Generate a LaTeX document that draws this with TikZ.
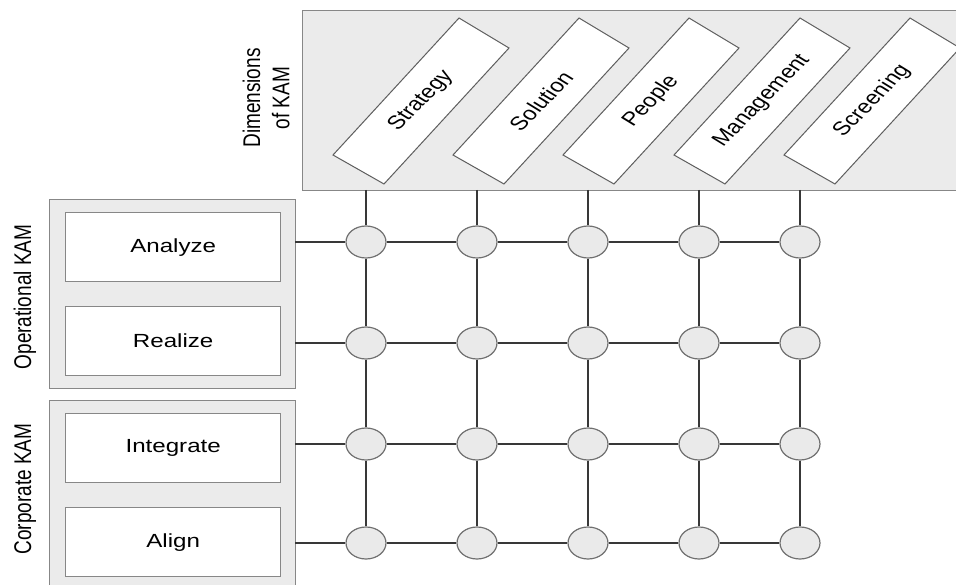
\documentclass[tikz,border=0pt]{standalone}
\usepackage{fontspec}
\setmainfont{Liberation Sans}
\usetikzlibrary{shapes.geometric}

\definecolor{panelfill}{HTML}{EBEBEB}
\definecolor{panelline}{HTML}{878787}
\definecolor{gridline}{HTML}{383838}
\definecolor{nodefill}{HTML}{EAEAEA}
\definecolor{nodeline}{HTML}{5E5E5E}
\definecolor{cellline}{HTML}{707070}

% wide lettering used throughout the figure
\newcommand{\wide}[1]{\scalebox{1.27}[1]{#1}}
% the same widening for text turned upright
\newcommand{\tall}[1]{\scalebox{1}[1.27]{#1}}

\begin{document}
\begin{tikzpicture}[x=1pt,y=-1pt,
  panel/.style={draw=panelline, fill=panelfill, line width=1.4pt, rectangle, inner sep=0pt, anchor=north west},
  phase/.style={draw=panelline, fill=white, line width=1.4pt, rectangle, inner sep=0pt,
    minimum width=215pt, minimum height=69pt, anchor=north west,
    font=\fontsize{19}{23}\selectfont},
  dimbox/.style={draw=nodeline, fill=white, line width=1pt, line join=miter},
  lbl/.style={font=\fontsize{19}{23}\selectfont, inner sep=0pt},
  cell/.style={ellipse, draw=cellline, fill=nodefill, line width=1.2pt,
    minimum width=40pt, minimum height=32pt, inner sep=0pt},
  link/.style={draw=gridline, line width=2.3pt},
]
\path[use as bounding box, clip] (0,0) rectangle (956,585);

% panels
\node[panel, minimum width=660pt, minimum height=180pt] (dims) at (302,10) {};
\node[panel, minimum width=246pt, minimum height=189pt] (oper) at (49,199) {};
\node[panel, minimum width=246pt, minimum height=196pt] (corp) at (49,400) {};

% phases
\node[phase] (analyze)   at (65,212) {\wide{Analyze}};
\node[phase] (realize)   at (65,306) {\wide{Realize}};
\node[phase] (integrate) at (65,413) {\wide{Integrate}};
\node[phase] (align)     at (65,507) {\wide{Align}};

% side captions
\node[lbl, rotate=90, anchor=base] (opcap)   at (31,297) {\tall{Operational KAM}};
\node[lbl, rotate=90, anchor=base] (corpcap) at (31,489) {\tall{Corporate KAM}};
\node[lbl, rotate=90] (dimcap) at (269,98)
  {\tall{\begin{tabular}{@{}c@{}}Dimensions\\of KAM\end{tabular}}};

% slanted dimension labels, widened after turning
\foreach \x/\name/\txt in {333/d1/Strategy, 453/d2/Solution, 563/d3/People,
                           674/d4/Management, 784/d5/Screening}{
  \draw[dimbox] (\x,155) -- ++(126,-137) -- ++(50,30) -- ++(-125,136) -- cycle;
  \begin{scope}[shift={(\x+88,101)}, xscale=1.27]
    \node[lbl, transform shape, rotate=52] (\name) at (0,0) {\txt};
  \end{scope}
}

% grid of crossing points
\foreach \r/\y in {1/242, 2/343, 3/444, 4/543}{
  \foreach \c/\x in {1/366, 2/477, 3/588, 4/699, 5/800}{
    \node[cell] (c-\r-\c) at (\x,\y) {};
  }
}
\foreach \c/\x in {1/366, 2/477, 3/588, 4/699, 5/800}{
  \coordinate (t\c) at (\x,190);
}
\coordinate (l1) at (295,242);
\coordinate (l2) at (295,343);
\coordinate (l3) at (295,444);
\coordinate (l4) at (295,543);

% vertical links
\foreach \c in {1,...,5}{
  \draw[link] (t\c) -- (c-1-\c);
  \draw[link] (c-1-\c) -- (c-2-\c);
  \draw[link] (c-2-\c) -- (c-3-\c);
  \draw[link] (c-3-\c) -- (c-4-\c);
}
% horizontal links
\foreach \r in {1,...,4}{
  \draw[link] (l\r) -- (c-\r-1);
  \draw[link] (c-\r-1) -- (c-\r-2);
  \draw[link] (c-\r-2) -- (c-\r-3);
  \draw[link] (c-\r-3) -- (c-\r-4);
  \draw[link] (c-\r-4) -- (c-\r-5);
}
\end{tikzpicture}
\end{document}
